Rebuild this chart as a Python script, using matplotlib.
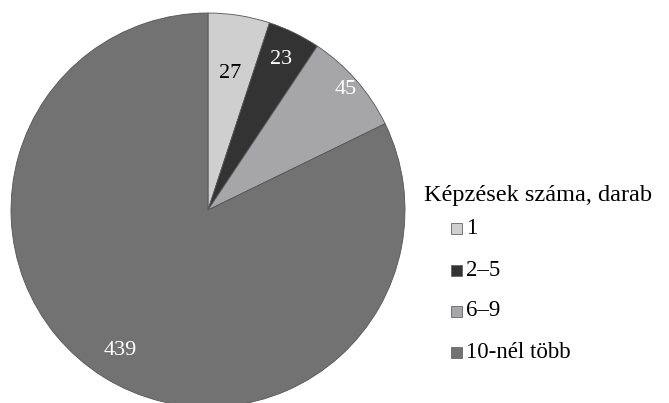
import matplotlib.pyplot as plt
import matplotlib.patches as mpatches
import numpy as np

# data
categories = ["1", "2–5", "6–9", "10-nél több"]
values = [27, 23, 45, 439]
colors = ["#cfcfd0", "#333333", "#a6a6a8", "#737272"]
label_colors = ["black", "white", "white", "white"]
legend_title = "Képzések száma, darab"

plt.rcParams["font.family"] = ["Liberation Serif", "DejaVu Serif"]

W, H = 669, 403
fig = plt.figure(figsize=(W / 100, H / 100), dpi=100)

# pie axes: centre (208, 210) px from top-left, radius 197 px
cx, cy, r = 208, 210, 197
ax = fig.add_axes([(cx - r) / W, (H - cy - r) / H, 2 * r / W, 2 * r / H])
wedges, _ = ax.pie(values, colors=colors, startangle=90, counterclock=False,
                   wedgeprops=dict(edgecolor="#555555", linewidth=0.6))
ax.set_xlim(-1, 1)
ax.set_ylim(-1, 1)
ax.set_aspect("equal")

# value labels
label_r = [0.70, 0.85, 0.93, 0.84]
for w, v, c, lr in zip(wedges, values, label_colors, label_r):
    ang = np.deg2rad((w.theta1 + w.theta2) / 2)
    ax.text(lr * np.cos(ang), lr * np.sin(ang), str(v), color=c,
            fontsize=16, ha="center", va="center")

# legend (drawn by hand)
fig.text(424 / W, 1 - 196 / H, legend_title, fontsize=17.5, ha="left", va="center")
rows_y = [228, 270, 311, 352]
for lab, c, y in zip(categories, colors, rows_y):
    fig.patches.append(mpatches.Rectangle((451 / W, 1 - (y + 5.5) / H), 11 / W, 11 / H,
                                          facecolor=c, edgecolor="#666666", linewidth=0.6,
                                          transform=fig.transFigure, figure=fig))
    fig.text(466 / W, 1 - y / H, lab, fontsize=16.5, ha="left", va="center")

fig.savefig("out.png", dpi=100)
